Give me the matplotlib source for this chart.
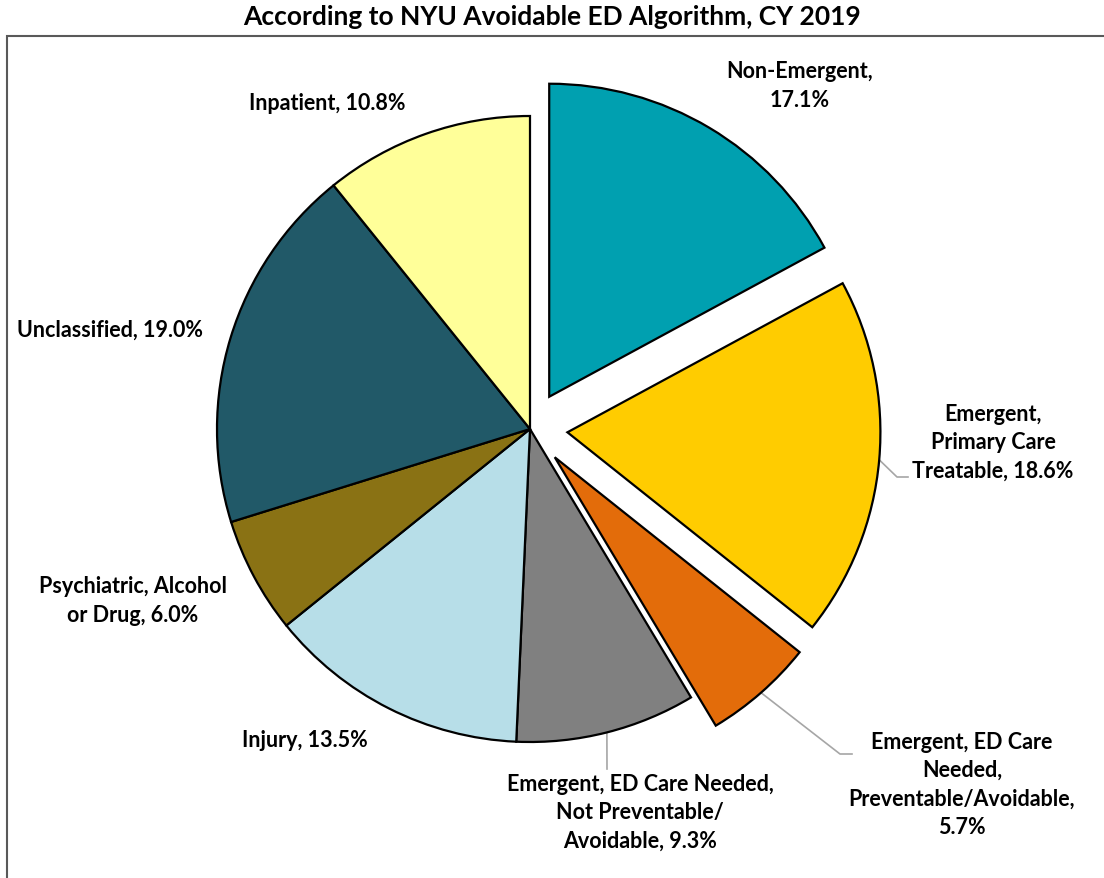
import numpy as np
import matplotlib.pyplot as plt
from matplotlib.patches import Rectangle

plt.rcParams['font.family'] = ['Lato', 'DejaVu Sans']

labels = ["Non-Emergent,\n17.1%",
          "Emergent,\nPrimary Care\nTreatable, 18.6%",
          "Emergent, ED Care\nNeeded,\nPreventable/Avoidable,\n5.7%",
          "Emergent, ED Care Needed,\nNot Preventable/\nAvoidable, 9.3%",
          "Injury, 13.5%",
          "Psychiatric, Alcohol\nor Drug, 6.0%",
          "Unclassified, 19.0%",
          "Inpatient, 10.8%"]
values = [17.1, 18.6, 5.7, 9.3, 13.5, 6.0, 19.0, 10.8]
colors = ["#00A0B0", "#FFCC00", "#E36C0A", "#808080",
          "#B7DEE8", "#8A7214", "#215968", "#FFFF99"]
explode = [0.12, 0.12, 0.12, 0, 0, 0, 0, 0]

W, H = 1104, 879
cx, cy, R = 530, 430, 313


def px(x, y):
    return (x - cx) / R, (cy - y) / R


fig = plt.figure(figsize=(W / 100, H / 100), dpi=100)
ax = fig.add_axes([0, 0, 1, 1])
ax.axis('off')

wedges, _ = ax.pie(values, colors=colors, explode=explode, startangle=90,
                   counterclock=False, radius=1, center=(0, 0),
                   wedgeprops=dict(edgecolor='black', linewidth=1.6))
ax.set_xlim(-cx / R, (W - cx) / R)
ax.set_ylim((cy - H) / R, cy / R)
ax.set_aspect('auto')

# label centres (pixels)
label_pos = [(800, 86), (993, 443), (962, 785), (640, 813),
             (305, 741), (133, 601), (110, 330), (327, 103)]
for lab, (x, y) in zip(labels, label_pos):
    tx, ty = px(x, y)
    ax.text(tx, ty, lab, ha='center', va='center', fontsize=15.5,
            fontweight='bold', linespacing=1.45, color='black')

# leader lines: from wedge arc at mid-angle to elbow points
leaders = {1: [(897, 478), (908, 478)],
           2: [(840, 755), (852, 755)],
           3: [(607, 770)]}
for i, pts in leaders.items():
    w = wedges[i]
    mid = np.deg2rad((w.theta1 + w.theta2) / 2)
    sx = w.center[0] + np.cos(mid)
    sy = w.center[1] + np.sin(mid)
    xs = [sx] + [px(*p)[0] for p in pts]
    ys = [sy] + [px(*p)[1] for p in pts]
    ax.plot(xs, ys, color='#A6A6A6', lw=1.2, zorder=0.5)

fig.patches.append(Rectangle((7 / W, -0.01), 1.0, 1 - 37 / H + 0.01,
                             transform=fig.transFigure, fill=False,
                             edgecolor='#595959', linewidth=1.5))

fig.text(0.5, 1 - 17 / H, "According to NYU Avoidable ED Algorithm, CY 2019",
         ha='center', va='center', fontsize=19, fontweight='bold')

fig.savefig('out.png', dpi=100)
